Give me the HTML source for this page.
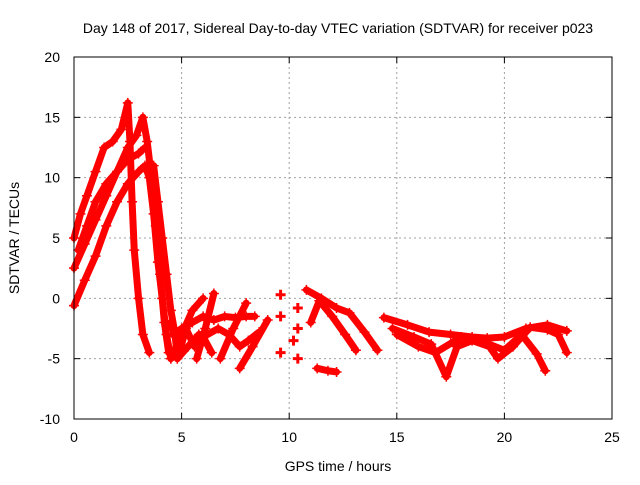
<!DOCTYPE html>
<html><head><meta charset="utf-8"><style>
body{margin:0;background:#fff}
svg text{font-family:"Liberation Sans",sans-serif;font-size:14px;fill:#000}
</style></head><body>
<svg id="chart" width="640" height="480" xmlns="http://www.w3.org/2000/svg">
<rect width="640" height="480" fill="#fff"/>
<text x="338" y="33" text-anchor="middle">Day 148 of 2017, Sidereal Day-to-day VTEC variation (SDTVAR) for receiver p023</text>
<g id="grid"></g>
<g id="ticks"></g>
<g id="series"></g>
<rect x="74" y="57" width="538" height="362" fill="none" stroke="#000" stroke-width="1"/>
<text x="338" y="471" text-anchor="middle">GPS time / hours</text>
<text transform="translate(19,238) rotate(-90)" text-anchor="middle">SDTVAR / TECUs</text>
</svg>
<script>
const xTicks=[0,5,10,15,20,25];
const yTicks=[-10,-5,0,5,10,15,20];
const trackA=[[0,-0.6],[0.5,1.5],[1,3.5],[1.5,6],[2,8],[2.5,9.5],[3,10.5],[3.3,11],[3.5,10],[3.7,7],[3.9,3],[4.1,0],[4.3,-3],[4.5,-5]];
const trackB=[[0,2.5],[0.5,4.5],[1,6.5],[1.5,8.5],[2,10.5],[2.5,12.5],[2.9,13.5],[3.2,15],[3.4,13],[3.6,10],[3.8,6],[4,2],[4.2,-2],[4.4,-4.5]];
const trackC=[[0,5],[0.3,7],[0.6,8.5],[1,10.5],[1.4,12.5],[1.8,13],[2.2,14],[2.5,16.2],[2.6,13],[2.7,8],[2.8,4],[3,0],[3.2,-3],[3.5,-4.5]];
const trackC2=[[0.2,4],[0.6,6],[1,8],[1.5,9.5],[2,10.5],[2.5,11.5],[3,12],[3.3,12.5]];
const trackD=[[3.7,11],[3.9,8],[4.1,5],[4.3,2],[4.5,-1],[4.7,-3],[4.8,-5]];
const trackE=[[4.6,-3],[5,-2.5],[5.5,-2],[6,-1.5],[6.5,-1.8],[7,-1.5],[7.5,-1.6],[8,-1.5],[8.4,-1.5]];
const trackF=[[4.5,-5],[5,-3],[5.5,-1],[6,0]];
const trackG=[[4.8,-5],[5.3,-4],[5.8,-3],[6.2,-3],[6.7,-2.5],[7.2,-3],[7.7,-4],[8.1,-3.5],[8.6,-2.8]];
const trackG2=[[4.5,-2],[4.9,-4.5],[5.2,-2.5],[5.6,-4],[6,-3.2],[6.4,-4.5]];
const trackH=[[5.7,-5],[6.1,-2.5],[6.5,0.4]];
const trackI=[[6.8,-5],[7.4,-2.5],[8,-0.4]];
const trackJ=[[7.7,-5.8],[8.3,-4],[9,-1.8]];
const trackK=[[9.6,0.3],[9.6,-1.5],[9.6,-4.5],[10.4,-0.8],[10.4,-2.5],[10.4,-5],[10.2,-3.5]];
const trackL=[[10.8,0.7],[11.5,0],[12.2,-0.8],[12.8,-1.2],[13.5,-2.8],[14.1,-4.3]];
const trackM=[[11,-2],[11.4,-0.2],[12,-1.5],[12.6,-3],[13.1,-4.3]];
const trackN=[[11.3,-5.8],[11.8,-6],[12.2,-6.1]];
const trackO=[[14.4,-1.6],[15.5,-2.2],[16.5,-2.8],[17.5,-3],[18.5,-3.2],[19.2,-3.3],[20,-3.2],[21,-2.5],[22,-2.2],[22.9,-2.7]];
const trackP=[[14.8,-2.5],[15.8,-3.2],[16.6,-3.8],[17.3,-6.5],[17.8,-4],[18.5,-3.5],[19.3,-4],[19.7,-5],[20.4,-4],[21.2,-2.4],[22,-2.6],[22.5,-3],[22.9,-4.5]];
const trackQ=[[15,-3],[16,-4],[16.8,-4.5],[18,-3.2],[19,-3.6],[20,-4.3],[20.8,-3],[21.5,-4.6],[21.9,-6]];
const tracks=[trackA,trackB,trackC,trackC2,trackD,trackE,trackF,trackG,trackG2,trackH,trackI,trackJ,trackL,trackM,trackN,trackO,trackP,trackQ];
const ns="http://www.w3.org/2000/svg";
const X0=74,X1=612,Y0=419,Y1=57;
function xs(t){return X0+(t-0)/(25-0)*(X1-X0);}
function ys(v){return Y0-(v+10)/(30)*(Y0-Y1);}
const grid=document.getElementById('grid'),ticks=document.getElementById('ticks'),svg=document.getElementById('chart'),ser=document.getElementById('series');
function mk(tag,attrs,parent){const e=document.createElementNS(ns,tag);for(const k in attrs)e.setAttribute(k,attrs[k]);parent.appendChild(e);return e;}
xTicks.forEach(t=>{const x=xs(t);
 if(t>0&&t<25){const g=mk('line',{x1:x,x2:x,y1:Y1,y2:Y0,stroke:'#a0a0a0','stroke-dasharray':'2,3'},grid);}
 mk('line',{x1:x,x2:x,y1:Y0,y2:Y0-6,stroke:'#000'},ticks);mk('line',{x1:x,x2:x,y1:Y1,y2:Y1+6,stroke:'#000'},ticks);
 const l=mk('text',{x:x,y:442,'text-anchor':'middle'},svg);l.textContent=t;
 
 });
yTicks.forEach(v=>{const y=ys(v);
 if(v>-10&&v<20){const g=mk('line',{x1:X0,x2:X1,y1:y,y2:y,stroke:'#a0a0a0','stroke-dasharray':'2,3'},grid);}
 mk('line',{x1:X0,x2:X0+6,y1:y,y2:y,stroke:'#000'},ticks);mk('line',{x1:X1,x2:X1-6,y1:y,y2:y,stroke:'#000'},ticks);
 const l=mk('text',{x:60,y:y+5,'text-anchor':'end'},svg);l.textContent=v;
 
 });
tracks.forEach(tr=>{
 const p=mk('polyline',{points:tr.map(d=>xs(d[0])+','+ys(d[1])).join(' '),fill:'none',stroke:'#f00','stroke-width':7,'stroke-linejoin':'round','stroke-linecap':'round'},ser);
 
 
 tr.forEach(d=>{const x=xs(d[0]),y=ys(d[1]);
  const m=mk('path',{d:`M${x-5},${y}H${x+5}M${x},${y-5}V${y+5}`,stroke:'#f00','stroke-width':1.5},ser);
  
  });
});
trackK.forEach(d=>{const x=xs(d[0]),y=ys(d[1]);
 const m=mk('path',{d:`M${x-5},${y}H${x+5}M${x},${y-5}V${y+5}`,stroke:'#f00','stroke-width':3},ser);
 
 });
</script>
</body></html>
